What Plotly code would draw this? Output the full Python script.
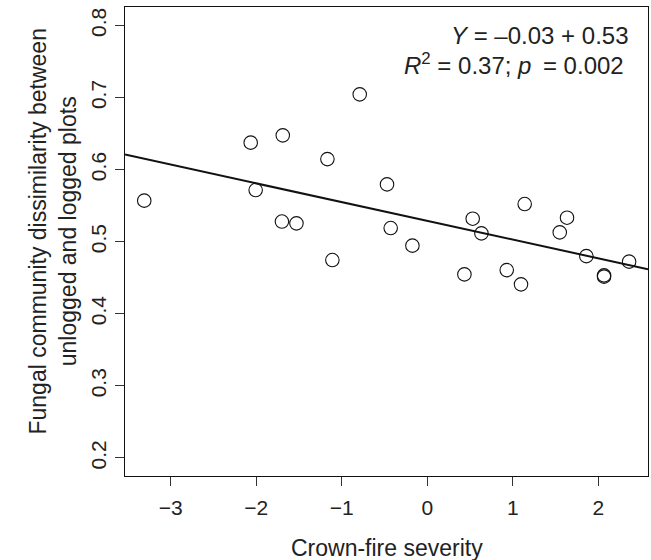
import plotly.graph_objects as go

# Crown-fire severity (x) and fungal community dissimilarity (y) per plot pair
severity = [-3.31, -2.065, -2.007, -1.69, -1.70, -1.53, -1.168, -1.11, -0.79,
            -0.471, -0.428, -0.174, 0.434, 0.531, 0.633, 0.929, 1.096, 1.139,
            1.549, 1.634, 1.86, 2.067, 2.067, 2.36]
dissimilarity = [0.557, 0.6375, 0.5717, 0.6476, 0.528, 0.5255, 0.6147, 0.4746, 0.7045,
                 0.5796, 0.519, 0.4946, 0.4547, 0.532, 0.5116, 0.4607, 0.4409, 0.5523,
                 0.513, 0.5334, 0.480, 0.4534, 0.4516, 0.4724]

# Linear regression fit
intercept = 0.529
slope = -0.026
r_squared = 0.37
p_value = 0.002

x_ticks = [-3, -2, -1, 0, 1, 2]
y_ticks = [0.2, 0.3, 0.4, 0.5, 0.6, 0.7, 0.8]
x_range = [-3.535, 2.581]
y_range = [0.175, 0.8257]

FONT = "Liberation Sans, Arial, sans-serif"
INK = "#222222"

fit_x = list(x_range)
fit_y = [intercept + slope * v for v in fit_x]

fig = go.Figure()
fig.add_trace(go.Scatter(
    x=fit_x, y=fit_y, mode="lines",
    line=dict(color="#111111", width=2),
    hoverinfo="skip", showlegend=False,
))
fig.add_trace(go.Scatter(
    x=severity, y=dissimilarity, mode="markers",
    marker=dict(symbol="circle-open", size=13.5, color="#111111",
                line=dict(width=1.1, color="#111111")),
    showlegend=False,
))

axis_common = dict(
    showgrid=False, zeroline=False,
    showline=True, linecolor="#111111", linewidth=1.3, mirror=True,
    ticks="outside", ticklen=9, tickwidth=1, tickcolor="#333333",
    tickfont=dict(family=FONT, size=21, color=INK),
)

fig.update_xaxes(range=x_range, tickvals=x_ticks, ticklabelstandoff=4, **axis_common)
fig.update_yaxes(range=y_range, tickvals=y_ticks, tickformat=".1f",
                 tickangle=-90, **axis_common)

eq_text = "<i>Y</i> = {} + {:.2f}".format(f"{slope:.2f}".replace("-", "\u2013"), intercept)
stat_text = "<i>R</i><sup>2</sup> = {:.2f}; <i>p</i>\u2009 = {:.3f}".format(r_squared, p_value)

annotations = [
    dict(text=eq_text, x=0.968, y=0.94, xref="paper", yref="paper",
         xanchor="right", yanchor="middle", showarrow=False,
         font=dict(family=FONT, size=24, color=INK)),
    dict(text=stat_text, x=0.957, y=0.878, xref="paper", yref="paper",
         xanchor="right", yanchor="middle", showarrow=False,
         font=dict(family=FONT, size=24, color=INK)),
    dict(text="Crown-fire severity", x=0.5, y=-0.153, xref="paper", yref="paper",
         xanchor="center", yanchor="middle", showarrow=False,
         font=dict(family=FONT, size=23, color=INK)),
    dict(text="Fungal community dissimilarity between<br>unlogged and logged plots",
         x=-0.137, y=0.522, xref="paper", yref="paper", textangle=-90,
         xanchor="center", yanchor="middle", showarrow=False,
         font=dict(family=FONT, size=23, color=INK)),
]

fig.update_layout(
    width=651, height=560,
    margin=dict(l=125, r=3, t=7, b=84),
    paper_bgcolor="white", plot_bgcolor="white",
    annotations=annotations,
)

fig.write_html("out.html")
